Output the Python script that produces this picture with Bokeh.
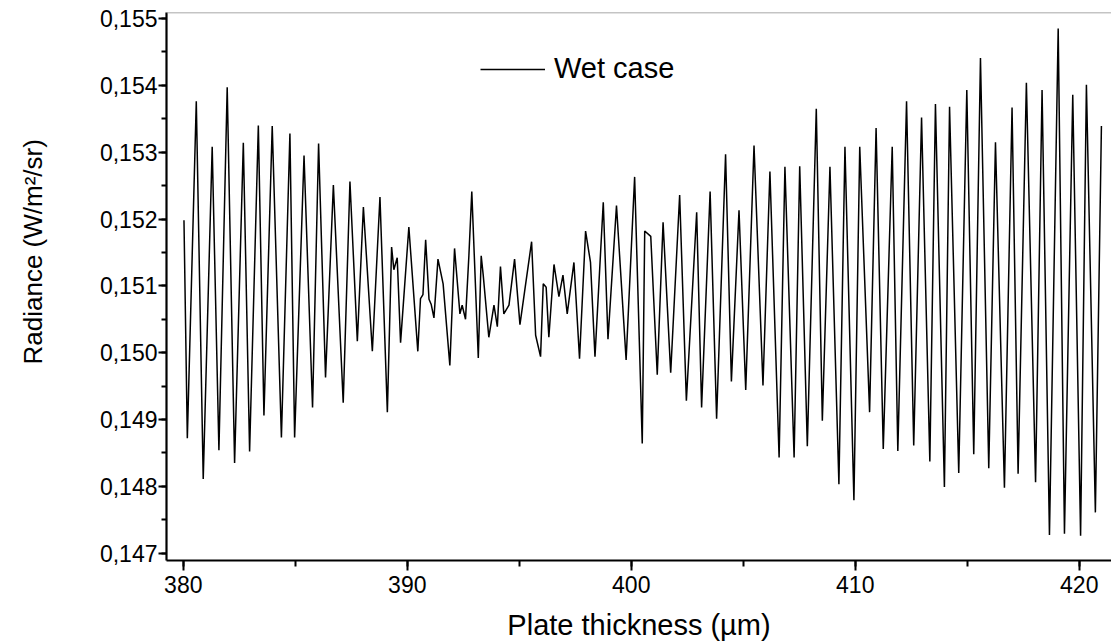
from bokeh.plotting import figure
from bokeh.models import (Range1d, SingleIntervalTicker, FixedTicker, CustomJSTickFormatter,
                          LinearAxis, Title, Span, Legend, LegendItem)
from bokeh.embed import file_html
from bokeh.resources import INLINE

# Plate thickness (µm) and radiance (W/m²/sr)
thickness = [
    380.03, 380.18, 380.58, 380.89, 381.29, 381.59, 381.96, 382.29, 382.68, 382.96,
    383.35, 383.60, 383.97, 384.38, 384.76, 384.97, 385.39, 385.77, 386.04, 386.35,
    386.70, 387.14, 387.44, 387.77, 388.04, 388.44, 388.78, 389.11, 389.30, 389.40,
    389.55, 389.70,
    390.07, 390.47, 390.59, 390.70, 390.82, 390.97, 391.07, 391.19, 391.37, 391.60,
    391.90, 392.11, 392.35, 392.45, 392.60, 392.75, 392.88, 393.17, 393.30, 393.39,
    393.64, 393.87, 394.02, 394.16, 394.31, 394.54, 394.79, 395.03, 395.24, 395.55,
    395.73, 395.95, 396.07, 396.20, 396.32, 396.55, 396.77, 396.95, 397.14, 397.44,
    397.69, 397.96, 398.18, 398.38, 398.75, 398.96, 399.34, 399.77, 400.15, 400.49,
    400.60, 400.87, 401.16, 401.42, 401.76, 402.16, 402.46, 402.92, 403.14, 403.52,
    403.81, 404.21, 404.47, 404.81, 405.11, 405.48, 405.88, 406.19, 406.60, 406.86,
    407.27, 407.52, 407.86, 408.26, 408.53, 408.87, 409.27, 409.54, 409.94, 410.20,
    410.64,
    410.93, 411.25, 411.65, 411.90, 412.29, 412.61, 412.96, 413.33, 413.58, 413.98,
    414.21, 414.62, 414.98, 415.29, 415.59, 415.96, 416.26, 416.66, 417.00, 417.27,
    417.64, 418.05, 418.34, 418.67, 419.06, 419.34, 419.71, 420.06, 420.32, 420.72,
    420.99,
]
radiance = [
    0.15198, 0.14872, 0.15376, 0.14811, 0.15308, 0.14854, 0.15397, 0.14835, 0.15314, 0.14852,
    0.15340, 0.14906, 0.15339, 0.14873, 0.15328, 0.14873, 0.15295, 0.14918, 0.15313, 0.14963,
    0.15251, 0.14925, 0.15256, 0.15017, 0.15218, 0.15002, 0.15233, 0.14911, 0.15158, 0.15124,
    0.15142, 0.15015,
    0.15188, 0.15002, 0.15081, 0.15087, 0.15169, 0.15080, 0.15072, 0.15052, 0.15140, 0.15103,
    0.14981, 0.15156, 0.15058, 0.15071, 0.15050, 0.15145, 0.15241, 0.14992, 0.15145, 0.15116,
    0.15023, 0.15071, 0.15039, 0.15129, 0.15058, 0.15071, 0.15140, 0.15042, 0.15092, 0.15166,
    0.15026, 0.14994, 0.15103, 0.15098, 0.15023, 0.15132, 0.15084, 0.15116, 0.15058, 0.15135,
    0.14991, 0.15182, 0.15135, 0.14994, 0.15225, 0.15020, 0.15220, 0.14989, 0.15263, 0.14864,
    0.15182, 0.15174, 0.14967, 0.15195, 0.14970, 0.15236, 0.14928, 0.15210, 0.14918, 0.15241,
    0.14901, 0.15297, 0.14957, 0.15213, 0.14944, 0.15310, 0.14951, 0.15271, 0.14843, 0.15278,
    0.14843, 0.15279, 0.14860, 0.15365, 0.14898, 0.15278, 0.14803, 0.15308, 0.14779, 0.15308,
    0.14911,
    0.15336, 0.14856, 0.15308, 0.14853, 0.15376, 0.14861, 0.15352, 0.14837, 0.15372, 0.14799,
    0.15368, 0.14820, 0.15393, 0.14848, 0.15441, 0.14827, 0.15315, 0.14798, 0.15367, 0.14819,
    0.15404, 0.14806, 0.15393, 0.14727, 0.15485, 0.14729, 0.15386, 0.14726, 0.15401, 0.14761,
    0.15339,
]
series_name = "Wet case"
x_title = "Plate thickness (µm)"
y_title = "Radiance (W/m²/sr)"

FONT = "Liberation Sans"
X0, X1 = 379.25, 421.44
Y0, Y1 = 0.14689, 0.15509

p = figure(width=1111, height=643, output_backend="svg", toolbar_location=None,
           x_range=Range1d(X0, X1), y_range=Range1d(Y0, Y1),
           min_border_left=166, min_border_right=0, min_border_top=12,
           min_border_bottom=79)
p.outline_line_color = None
p.background_fill_color = "white"
p.border_fill_color = "white"
p.grid.visible = False

r = p.line(thickness, radiance, line_color="black", line_width=1.5)

# axes
p.xaxis.ticker = SingleIntervalTicker(interval=10, num_minor_ticks=2)
p.yaxis.ticker = SingleIntervalTicker(interval=0.001, num_minor_ticks=2)
p.yaxis.formatter = CustomJSTickFormatter(code="return tick.toFixed(3).replace('.', ',');")
p.xaxis.formatter = CustomJSTickFormatter(code="return tick.toFixed(0);")
for ax in (p.xaxis, p.yaxis):
    ax.axis_line_width = 2.2
    ax.axis_line_color = "black"
    ax.major_tick_line_width = 2
    ax.minor_tick_line_width = 2
    ax.major_tick_line_color = "black"
    ax.minor_tick_line_color = "black"
    ax.major_tick_in = 0
    ax.minor_tick_in = 0
    ax.major_label_text_font = FONT
    ax.major_label_text_color = "black"
p.xaxis.major_tick_out = 10
p.xaxis.minor_tick_out = 6
p.xaxis.major_label_standoff = 5
p.xaxis.major_label_text_font_size = "23px"
p.yaxis.major_tick_out = 8
p.yaxis.minor_tick_out = 5
p.yaxis.major_label_standoff = 1
p.yaxis.major_label_text_font_size = "23px"

p.xaxis.axis_label = x_title
p.xaxis.axis_label_text_font = FONT
p.xaxis.axis_label_text_font_size = "29px"
p.xaxis.axis_label_text_font_style = "normal"
p.xaxis.axis_label_text_color = "black"
p.xaxis.axis_label_standoff = 13

# invisible (white) spacer between the y tick labels and the y title
spacer = LinearAxis(ticker=FixedTicker(ticks=[0.148], minor_ticks=[]),
                    axis_line_color=None,
                    major_tick_line_color="white", minor_tick_line_color=None,
                    major_tick_out=44, minor_tick_out=0, major_tick_in=0,
                    minor_tick_in=0, major_label_standoff=0,
                    major_label_text_font_size="0px",
                    major_label_text_color="white")
p.add_layout(spacer, "left")

# y title: a side title, anchored from the bottom of the frame like the reference
ytitle = Title(text=y_title, align="left", offset=196, standoff=10,
               text_font=FONT, text_font_size="26px", text_font_style="normal",
               text_color="black")
p.add_layout(ytitle, "left")

# top frame line
p.add_layout(Span(location=Y1, dimension="width", line_color="#8a8a8a", line_width=1.5))

legend = Legend(items=[LegendItem(label=series_name, renderers=[r])],
                location=(314, 475), border_line_color=None,
                background_fill_alpha=0, padding=0, margin=0, glyph_width=65,
                glyph_height=20, label_standoff=9, label_text_font=FONT,
                label_text_font_size="29px", label_text_color="black")
p.add_layout(legend)

open("out.html", "w").write(file_html(p, INLINE))
